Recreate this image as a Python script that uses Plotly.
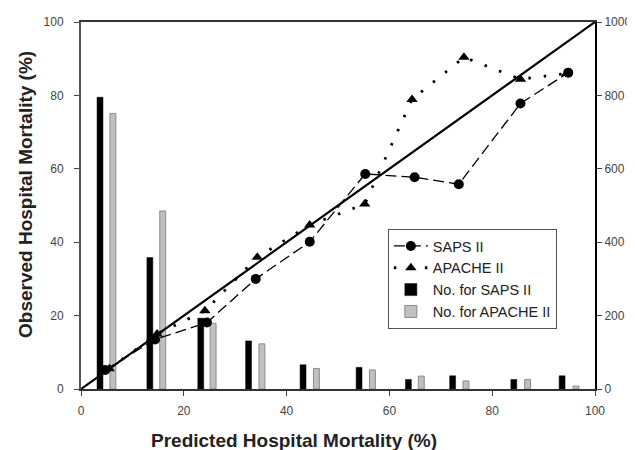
import plotly.graph_objects as go

# Calibration curves (Observed vs Predicted hospital mortality, %)
saps_pred = [4.7, 14.4, 24.5, 34.0, 44.5, 55.3, 64.9, 73.5, 85.5, 94.8]
saps_obs = [5.2, 13.5, 18.1, 30.0, 40.1, 58.6, 57.7, 55.8, 77.8, 86.2]
apache_pred = [5.5, 14.8, 24.1, 34.3, 44.5, 55.2, 64.4, 74.5, 85.5, 94.5]
apache_obs = [5.5, 15.0, 21.3, 35.9, 44.7, 50.4, 78.9, 90.4, 84.4, 86.0]

# Number of patients per decile (right axis)
saps_bar_x = [3.7, 13.4, 23.3, 32.6, 43.2, 54.1, 63.7, 72.3, 84.2, 93.6]
saps_n = [795, 358, 193, 131, 66, 59, 26, 36, 26, 36]
apache_bar_x = [6.2, 15.9, 25.7, 35.2, 45.8, 56.7, 66.2, 74.9, 86.9, 96.3]
apache_n = [751, 485, 179, 123, 56, 52, 35, 22, 26, 8]

ideal = [0, 100]

x_title = "Predicted Hospital Mortality (%)"
y_title = "Observed Hospital Mortality (%)"

FONT = "Liberation Sans, Arial, sans-serif"

fig = go.Figure()

fig.add_trace(go.Bar(x=saps_bar_x, y=saps_n, width=1.15, name="No. for SAPS II",
                     marker=dict(color="black", line=dict(color="black", width=0.5)),
                     yaxis="y", legendrank=3))
fig.add_trace(go.Bar(x=apache_bar_x, y=apache_n, width=1.15, name="No. for APACHE II",
                     marker=dict(color="#c0c0c0", line=dict(color="#8a8a8a", width=1)),
                     yaxis="y", legendrank=4))

fig.add_trace(go.Scatter(x=ideal, y=ideal, mode="lines", showlegend=False,
                         line=dict(color="black", width=2.2), yaxis="y2"))
fig.add_trace(go.Scatter(x=saps_pred, y=saps_obs, mode="lines+markers", name="SAPS II",
                         line=dict(color="black", width=1.3, dash="11px,5px"),
                         marker=dict(symbol="circle", size=10, color="black"),
                         yaxis="y2", legendrank=1))
fig.add_trace(go.Scatter(x=apache_pred, y=apache_obs, mode="lines+markers", name="APACHE II",
                         line=dict(color="black", width=2.8, dash="2.5px,13px"),
                         marker=dict(symbol="triangle-up", size=10, color="black"),
                         yaxis="y2", legendrank=2))

axis_common = dict(showgrid=False, zeroline=False, showline=True, linewidth=2,
                   ticks="outside", ticklen=5, tickwidth=1, automargin=False,
                   tickfont=dict(family=FONT, size=12, color="#444"))

# The page body adds an 8px offset; the figure is sized to compensate.
W, H = 627, 442
ML, MR, MT, MB = 73, 40, 14, 61
PW, PH = W - ML - MR, H - MT - MB

fig.update_layout(
    width=W, height=H,
    margin=dict(l=ML, r=MR, t=MT, b=MB),
    paper_bgcolor="white", plot_bgcolor="white",
    barmode="overlay",
    font=dict(family=FONT, color="black"),
    xaxis=dict(range=[0, 100], tickvals=[0, 20, 40, 60, 80, 100], linecolor="#333",
               mirror=True, ticklabelstandoff=5, **axis_common),
    yaxis=dict(range=[0, 1000], side="right", tickvals=[0, 200, 400, 600, 800, 1000],
               linecolor="black", **axis_common),
    yaxis2=dict(range=[0, 100], side="left", overlaying="y", tickvals=[0, 20, 40, 60, 80, 100],
                linecolor="#555", ticklabelstandoff=8, **axis_common),
    legend=dict(x=0.597, y=0.436, xanchor="left", yanchor="top",
                bgcolor="white", bordercolor="#555", borderwidth=1,
                font=dict(family=FONT, size=14.5, color="#222"),
                tracegroupgap=0, itemwidth=34, traceorder="normal"),
    showlegend=True,
    annotations=[
        dict(text="<b>" + x_title + "</b>", xref="paper", yref="paper",
             x=(294 - 8 - ML) / PW, y=-(440 - 8 - (MT + PH)) / PH,
             xanchor="center", yanchor="middle", showarrow=False,
             font=dict(family=FONT, size=19, color="#222")),
        dict(text="<b>" + y_title + "</b>", xref="paper", yref="paper",
             x=-(ML - (25 - 8)) / PW, y=1 - (195 - 8 - MT) / PH, textangle=-90,
             xanchor="center", yanchor="middle", showarrow=False,
             font=dict(family=FONT, size=19, color="#222")),
    ],
)

fig.write_html("out.html")
